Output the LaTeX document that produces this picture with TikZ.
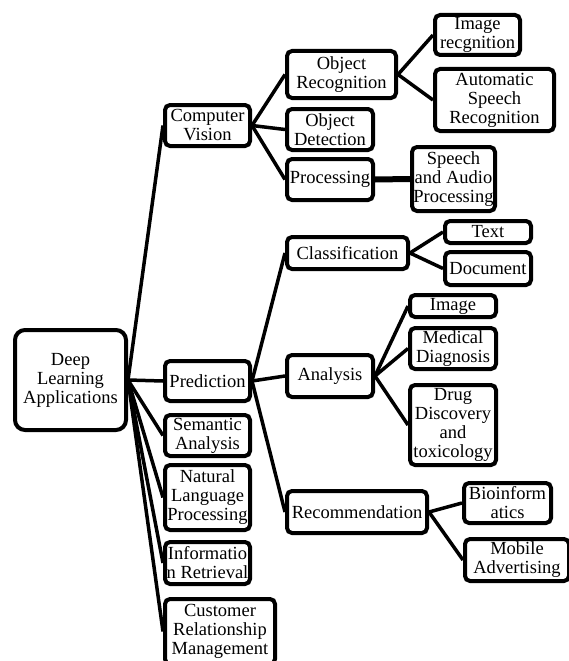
\documentclass[tikz,border=0pt]{standalone}
\usepackage{fontspec}
\setmainfont{Liberation Serif}
\usepackage{tikz}

\begin{document}
\begin{tikzpicture}[x=1pt, y=-1pt,
    box/.style={draw, line width=4pt, rounded corners=5pt, align=center, inner sep=1pt,
                font=\fontsize{18.5}{19}\selectfont},
    link/.style={line width=3.5pt}]
    \useasboundingbox (0,0) rectangle (568,661);

    % Root
    \node[box, rounded corners=10pt, minimum width=111pt, minimum height=100pt] (dla) at (70.5,380) {Deep\\Learning\\Applications};

    % Applications
    \node[box, minimum width=85pt, minimum height=41pt] (cv) at (207.5,125.5) {Computer\\Vision};
    \node[box, minimum width=85pt, minimum height=40pt] (pred) at (207.5,381) {Prediction};
    \node[box, minimum width=85pt, minimum height=41pt] (sem) at (207.5,435.5) {Semantic\\Analysis};
    \node[box, minimum width=85pt, minimum height=65pt] (nlp) at (207.5,497.5) {Natural\\Language\\Processing};
    \node[box, minimum width=85pt, minimum height=42pt] (ir) at (207.5,563) {Informatio\\n Retrieval};
    \node[box, minimum width=110pt, minimum height=65pt] (crm) at (220,631.5) {Customer\\Relationship\\Management};

    % Vision tasks
    \node[box, minimum width=109pt, minimum height=47pt] (objrec) at (341.5,74.5) {Object\\Recognition};
    \node[box, minimum width=86pt, minimum height=41pt] (objdet) at (330,129.5) {Object\\Detection};
    \node[box, minimum width=86pt, minimum height=41pt] (proc) at (330,179.5) {Processing};

    % Prediction tasks
    \node[box, minimum width=121pt, minimum height=32pt] (cls) at (347.5,253) {Classification};
    \node[box, minimum width=86pt, minimum height=42pt] (ana) at (330,376) {Analysis};
    \node[box, minimum width=140pt, minimum height=42pt] (rec) at (357,512) {Recommendation};

    % Leaves
    \node[box, minimum width=85pt, minimum height=40pt] (imgrec) at (477.5,35) {Image\\recgnition};
    \node[box, minimum width=119pt, minimum height=62pt] (asr) at (494.5,100) {Automatic\\Speech\\Recognition};
    \node[box, minimum width=83pt, minimum height=64pt] (sap) at (453.5,179) {Speech\\and Audio\\Processing};
    \node[box, minimum width=86pt, minimum height=22pt] (txt) at (488,232) {Text};
    \node[box, minimum width=86pt, minimum height=33pt] (doc) at (488,268.5) {Document};
    \node[box, minimum width=86pt, minimum height=22pt] (img) at (453,306) {Image};
    \node[box, minimum width=86pt, minimum height=41pt] (med) at (453,348.5) {Medical\\Diagnosis};
    \node[box, minimum width=86pt, minimum height=80pt] (drug) at (453,425) {Drug\\Discovery\\and\\toxicology};
    \node[box, minimum width=87pt, minimum height=40pt] (bio) at (507.5,503) {Bioinform\\atics};
    \node[box, minimum width=104pt, minimum height=42pt] (mob) at (517,560) {Mobile\\Advertising};

    % Links from root
    \draw[link] (dla.east) -- (cv.west);
    \draw[link] (dla.east) -- (pred.west);
    \draw[link] (dla.east) -- (sem.west);
    \draw[link] (dla.east) -- (nlp.west);
    \draw[link] (dla.east) -- (ir.west);
    \draw[link] (dla.east) -- (crm.west);

    % Links from Computer Vision
    \draw[link] (cv.east) -- (objrec.west);
    \draw[link] (cv.east) -- (objdet.west);
    \draw[link] (cv.east) -- (proc.west);
    \draw[link] (objrec.east) -- (imgrec.west);
    \draw[link] (objrec.east) -- (asr.west);
    \draw[link, line width=6pt] (proc.east) -- (sap.west); % heavier one

    % Links from Prediction
    \draw[link] (pred.east) -- (cls.west);
    \draw[link] (pred.east) -- (ana.west);
    \draw[link] (pred.east) -- (rec.west);
    \draw[link] (cls.east) -- (txt.west);
    \draw[link] (cls.east) -- (doc.west);
    \draw[link] (ana.east) -- (img.west);
    \draw[link] (ana.east) -- (med.west);
    \draw[link] (ana.east) -- (drug.west);
    \draw[link] (rec.east) -- (bio.west);
    \draw[link] (rec.east) -- (mob.west);
\end{tikzpicture}
\end{document}
